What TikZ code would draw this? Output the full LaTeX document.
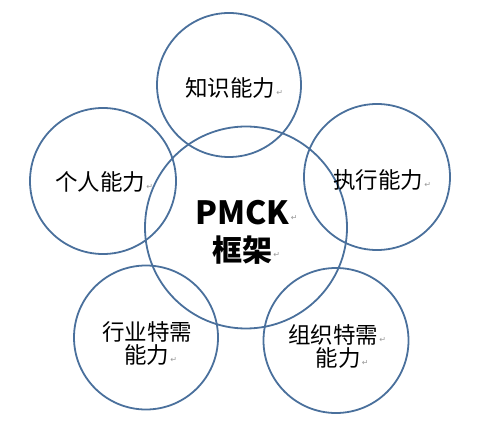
\documentclass[tikz,border=0pt]{standalone}
\usepackage{fontspec}
\setmainfont{Noto Sans CJK SC}
\newfontfamily\dejavu{DejaVu Sans}
\definecolor{ringblue}{HTML}{4A709C}
\tikzset{
  ring/.style={circle, draw=ringblue, line width=1.8pt, inner sep=0pt},
  lbl/.style={inner sep=0pt, font=\fontsize{22.5}{22.5}\selectfont},
  big/.style={inner sep=0pt, font=\fontsize{30}{30}\selectfont\bfseries},
  ret/.style={inner sep=0pt, anchor=west, text=gray!80, font=\dejavu\fontsize{8}{8}\selectfont, yshift=-5pt, xshift=1pt}
}
\begin{document}
\begin{tikzpicture}[x=1pt,y=-1pt]
\useasboundingbox (0,0) rectangle (490,422);
% circles
\node[ring, minimum size=202pt] (core) at (246,227.5) {};
\node[ring, minimum size=144pt] (know) at (229,85) {};
\node[ring, minimum size=146pt] (pers) at (103,181) {};
\node[ring, minimum size=146pt] (exec) at (377,177) {};
\node[ring, minimum size=144pt] (ind) at (146,337.5) {};
\node[ring, minimum size=145pt] (org) at (336,340.5) {};
% texts
\node[lbl] (t1) at (230,88) {知识能力};
\node[ret] at (t1.east) {↵};
\node[lbl] (t2) at (100,182) {个人能力};
\node[ret] at (t2.east) {↵};
\node[lbl] (t3) at (378,180) {执行能力};
\node[ret] at (t3.east) {↵};
\node[big, font=\fontsize{32}{32}\selectfont\bfseries] (t4) at (242.5,213) {PMCK};
\node[ret] at (t4.east) {↵};
\node[big] (t5) at (242,250) {框架};
\node[ret] at (t5.east) {↵};
\node[lbl] (t6) at (147,331.5) {行业特需};
\node[lbl] (t7) at (146.5,354.5) {能力};
\node[ret] at (t7.east) {↵};
\node[lbl] (t8) at (333,335) {组织特需};
\node[ret] at (t8.east) {↵};
\node[lbl] (t9) at (338,358) {能力};
\node[ret] at (t9.east) {↵};
\end{tikzpicture}
\end{document}
